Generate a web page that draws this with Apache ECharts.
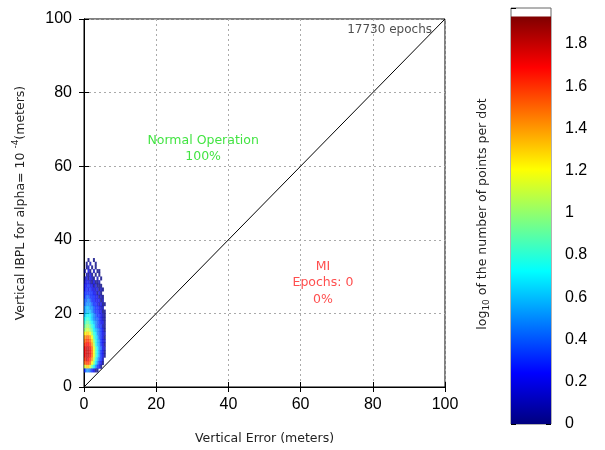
<!DOCTYPE html>
<html>
<head>
<meta charset="utf-8">
<script src="https://cdn.jsdelivr.net/npm/echarts@6/dist/echarts.min.js"></script>
<style>html,body{margin:0;padding:0;background:#fff}#c{width:605px;height:450px}</style>
</head>
<body>
<div id="c"></div>
<script>
// Axis ticks
var axisTicks = [0, 20, 40, 60, 80, 100];
var colorbarTicks = [0, 0.2, 0.4, 0.6, 0.8, 1, 1.2, 1.4, 1.6, 1.8];
// Density bins: x centers (m) and y centers (m)
var binX = [0.25, 0.75, 1.25, 1.75, 2.25, 2.75, 3.25, 3.75, 4.25, 4.75, 5.25, 5.75];
var binY = [34.5, 33.5, 32.5, 31.5, 30.5, 29.5, 28.5, 27.5, 26.5, 25.5, 24.5, 23.5, 22.5, 21.5, 20.5,
            19.5, 18.5, 17.5, 16.5, 15.5, 14.5, 13.5, 12.5, 11.5, 10.5, 9.5, 8.5, 7.5, 6.5, 5.5, 4.5];
// log10 of points per dot, one row per binY entry (null = empty)
var density = [
  [null,null,0,null,null,0,null,null,null,null,null,null],
  [null,0,null,0.1,null,null,0,null,null,null,null,null],
  [null,0,0.1,null,0,null,0,null,null,null,null,null],
  [0,null,0.2,0,null,0.1,null,0,0,null,null,null],
  [null,0.1,0,0.2,0,null,0,null,0,null,null,null],
  [0,0.2,0,0.2,0.1,0,null,0.1,null,0,null,null],
  [0.1,0.2,0.2,0.1,0,0.2,0,0,0.1,null,null,null],
  [0.2,0.2,0.3,0.2,0.2,0,0.2,0,0,0,null,null],
  [0.2,0.3,0.2,0.3,0.2,0.2,0.1,0.2,0,0.1,0,null],
  [0.3,0.3,0.3,0.3,0.3,0.2,0.2,0,0.2,0,null,null],
  [0.3,0.4,0.4,0.3,0.3,0.3,0.2,0.2,0,0.1,0,null],
  [0.4,0.4,0.5,0.4,0.3,0.3,0.2,0.2,0.2,0,0.1,null],
  [0.4,0.5,0.5,0.5,0.4,0.3,0.3,0.2,0.1,0.2,0,0],
  [0.5,0.6,0.6,0.5,0.5,0.4,0.3,0.3,0.2,0.1,0.1,null],
  [0.5,0.6,0.6,0.6,0.5,0.4,0.3,0.3,0.2,0.2,0,0],
  [0.6,0.7,0.7,0.7,0.6,0.5,0.4,0.3,0.3,0.2,0.1,0],
  [0.7,0.8,0.8,0.7,0.6,0.5,0.4,0.4,0.3,0.2,0.1,0],
  [0.8,0.9,0.9,0.8,0.7,0.6,0.5,0.4,0.3,0.2,0.2,0],
  [0.9,1.0,1.0,0.9,0.8,0.7,0.5,0.4,0.3,0.3,0.1,0],
  [1.0,1.1,1.1,1.0,0.9,0.7,0.6,0.5,0.4,0.3,0.2,0],
  [1.2,1.3,1.3,1.2,1.0,0.8,0.7,0.5,0.4,0.3,0.2,0.1],
  [1.4,1.5,1.5,1.4,1.2,0.9,0.7,0.6,0.4,0.3,0.2,0],
  [1.5,1.6,1.6,1.5,1.3,1.0,0.8,0.6,0.5,0.3,0.2,0.1],
  [1.6,1.7,1.7,1.6,1.4,1.1,0.8,0.6,0.5,0.3,0.2,0],
  [1.7,1.8,1.8,1.7,1.5,1.2,0.9,0.7,0.5,0.4,0.2,0.1],
  [1.7,1.8,1.8,1.7,1.5,1.2,0.9,0.7,0.5,0.3,0.2,0],
  [1.7,1.8,1.8,1.7,1.5,1.2,0.9,0.7,0.5,0.3,0.2,0],
  [1.6,1.8,1.7,1.6,1.4,1.1,0.8,0.6,0.4,0.3,0.1,null],
  [1.5,1.6,1.6,1.5,1.2,1.0,0.7,0.5,0.3,0.2,0,null],
  [1.1,1.3,1.3,1.1,0.9,0.7,0.5,0.3,0.2,0,null,null],
  [0.3,0.5,0.5,0.4,0.3,0.2,0,0,null,null,null,null]
];
var diagonal = [[0, 0], [100, 100]];
var colorbarMax = 1.93;
var epochsText = '17730 epochs';
var normalText = ['Normal Operation', '100%'];
var miText = ['MI', 'Epochs: 0', '0%'];
var jet = ['#00007f', '#0000ff', '#007fff', '#00ffff', '#7fff7f', '#ffff00', '#ff7f00', '#ff0000', '#7f0000'];

var pts = [];
for (var i = 0; i < binY.length; i++) {
  for (var j = 0; j < binX.length; j++) {
    var v = density[i][j];
    if (v !== null) pts.push([binX[j], binY[i], v]);
  }
}
var stops = jet.map(function (c, k) { return { offset: k / (jet.length - 1), color: c }; });

var chart = echarts.init(document.getElementById('c'), null, { renderer: 'canvas' });
var tickFont = { fontFamily: 'Liberation Sans', fontSize: 16, color: '#000' };
var txtFont = 'DejaVu Sans';
chart.setOption({
  animation: false,
  backgroundColor: '#fff',
  grid: [
    { left: 84, right: 160, top: 19, bottom: 63, show: true, borderColor: '#000', borderWidth: 1, containLabel: false, outerBoundsMode: 'none' },
    { left: 511, width: 40, top: 8, height: 416, show: true, borderColor: '#666', borderWidth: 1, containLabel: false, outerBoundsMode: 'none' }
  ],
  xAxis: [
    { gridIndex: 0, type: 'value', min: 0, max: 100, interval: 20, position: 'bottom',
      name: 'Vertical Error (meters)', nameLocation: 'middle', nameGap: 45,
      nameTextStyle: { fontFamily: txtFont, fontSize: 12.5, color: '#222' },
      axisLine: { show: true, lineStyle: { color: '#000' } },
      axisTick: { inside: true, length: 5, lineStyle: { color: '#000' } },
      axisLabel: Object.assign({ margin: 10 }, tickFont),
      splitLine: { show: true, lineStyle: { color: '#aaa', type: [2, 3], width: 1 } } },
    { gridIndex: 0, type: 'value', min: 0, max: 100, interval: 20, position: 'top',
      axisLine: { show: true, lineStyle: { color: '#000' } },
      axisTick: { inside: true, length: 5, lineStyle: { color: '#000' } },
      axisLabel: { show: false }, splitLine: { show: false } },
    { gridIndex: 1, type: 'category', data: [''], show: false }
  ],
  yAxis: [
    { gridIndex: 0, type: 'value', min: 0, max: 100, interval: 20, position: 'left',
      name: 'Vertical IBPL for alpha= 10 {sup|-4}(meters)', nameLocation: 'middle', nameGap: 54,
      nameTextStyle: { fontFamily: txtFont, fontSize: 12.5, color: '#222',
        rich: { sup: { fontFamily: txtFont, fontSize: 9, color: '#222', verticalAlign: 'bottom', padding: [0, 0, 10, 0] } } },
      axisLine: { show: true, lineStyle: { color: '#000' } },
      axisTick: { inside: true, length: 5, lineStyle: { color: '#000' } },
      axisLabel: Object.assign({ margin: 12 }, tickFont),
      splitLine: { show: true, lineStyle: { color: '#aaa', type: [2, 3], width: 1 } } },
    { gridIndex: 0, type: 'value', min: 0, max: 100, interval: 20, position: 'right',
      axisLine: { show: true, lineStyle: { color: '#000' } },
      axisTick: { inside: true, length: 5, lineStyle: { color: '#000' } },
      axisLabel: { show: false }, splitLine: { show: false } },
    { gridIndex: 1, type: 'value', min: 0, max: 1.97, interval: 0.2, position: 'right',
      axisLine: { show: false },
      axisTick: { show: true, inside: true, length: 5, lineStyle: { color: '#000' } },
      axisLabel: Object.assign({ margin: 14, showMaxLabel: false,
        formatter: function (v) { return colorbarTicks.indexOf(+v.toFixed(1)) >= 0 ? String(+v.toFixed(1)) : ''; } }, tickFont),
      splitLine: { show: false } },
    { gridIndex: 1, type: 'value', min: 0, max: 1.97, interval: 0.2, position: 'left',
      axisLine: { show: false },
      axisTick: { show: true, inside: true, length: 5, lineStyle: { color: '#000' } },
      axisLabel: { show: false }, splitLine: { show: false } }
  ],
  visualMap: {
    type: 'continuous', show: false, min: 0, max: colorbarMax, dimension: 2, seriesIndex: 1,
    inRange: { color: jet }
  },
  graphic: [{
    type: 'text', x: 483, y: 214, rotation: Math.PI / 2,
    style: { text: 'log{sub|10} of the number of points per dot', align: 'center', verticalAlign: 'middle',
      font: '12.5px "DejaVu Sans"', fill: '#222',
      rich: { sub: { fontFamily: txtFont, fontSize: 9, fill: '#222', verticalAlign: 'top', padding: [8, 0, 0, 0] } } }
  }],
  series: [
    { type: 'line', xAxisIndex: 0, yAxisIndex: 0, data: diagonal, symbol: 'none',
      lineStyle: { color: '#000', width: 1 }, z: 3 },
    { type: 'scatter', xAxisIndex: 0, yAxisIndex: 0, data: pts, symbol: 'rect', symbolSize: [2, 4], z: 4 },
    { type: 'scatter', xAxisIndex: 0, yAxisIndex: 0, symbolSize: 0, z: 5,
      data: [
        { value: [96.4, 97], label: { show: true, formatter: epochsText, position: 'inside', align: 'right', color: '#222', fontFamily: txtFont, fontSize: 12 } },
        { value: [33, 64.7], label: { show: true, formatter: normalText.join('\n'), position: 'inside', align: 'center', lineHeight: 16, color: '#11dd11', fontFamily: txtFont, fontSize: 12.5 } },
        { value: [66.2, 28.3], label: { show: true, formatter: miText.join('\n'), position: 'inside', align: 'center', lineHeight: 16.5, color: '#ff2222', fontFamily: txtFont, fontSize: 12.5 } }
      ] },
    { type: 'bar', xAxisIndex: 2, yAxisIndex: 2, data: [colorbarMax], barWidth: '100%', z: 2,
      itemStyle: { color: new echarts.graphic.LinearGradient(0, 1, 0, 0, stops) } }
  ]
});
</script>
</body>
</html>
